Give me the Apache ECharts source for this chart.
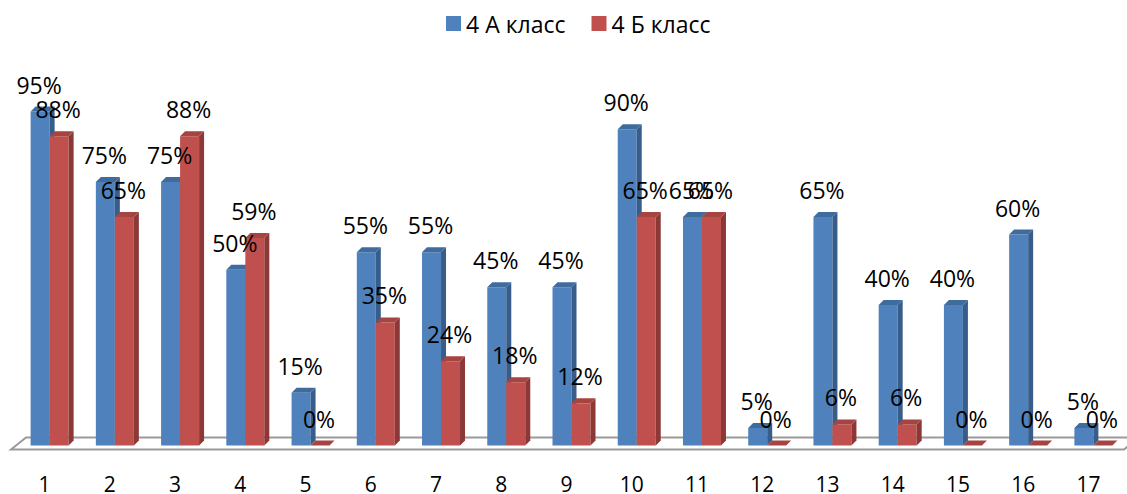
<!DOCTYPE html>
<html>
<head>
<meta charset="utf-8">
<script src="https://cdn.jsdelivr.net/npm/echarts@6/dist/echarts.min.js"></script>
<style>
html,body{margin:0;padding:0;background:#fff;}
#chart{width:1127px;height:494px;}
</style>
</head>
<body>
<div id="chart"></div>
<script>
const categories = ['1','2','3','4','5','6','7','8','9','10','11','12','13','14','15','16','17'];
const seriesNames = ['4 А класс', '4 Б класс'];
const classA = [95, 75, 75, 50, 15, 55, 55, 45, 45, 90, 65, 5, 65, 40, 40, 60, 5];
const classB = [88, 65, 88, 59, 0, 35, 24, 18, 12, 65, 65, 0, 6, 6, 0, 0, 0];

const FONT = '"Open Sans", sans-serif';
const BAR_W = 19, DX = 5, DY = -5;
const palettes = [
  {front: '#4F81BD', side: '#385D8A', top: '#3F6C9F'},
  {front: '#C0504D', side: '#8C3836', top: '#A54441'}
];
const offsets = [-14, 5];

function barRenderer(k) {
  return function (params, api) {
    const i = api.value(0), v = api.value(1);
    const base = api.coord([i, 0]);
    const top = api.coord([i, v]);
    const x0 = base[0] + offsets[k];
    const yb = base[1], yt = top[1];
    const c = palettes[k];
    return {
      type: 'group',
      children: [
        {type: 'rect', shape: {x: x0, y: yt, width: BAR_W, height: yb - yt}, style: {fill: c.front}},
        {type: 'polygon', shape: {points: [[x0 + BAR_W, yt], [x0 + BAR_W + DX, yt + DY], [x0 + BAR_W + DX, yb + DY], [x0 + BAR_W, yb]]}, style: {fill: c.side}},
        {type: 'polygon', shape: {points: [[x0, yt], [x0 + DX, yt + DY], [x0 + BAR_W + DX, yt + DY], [x0 + BAR_W, yt]]}, style: {fill: c.top}}
      ]
    };
  };
}

function labelRenderer(k) {
  return function (params, api) {
    const i = api.value(0), v = api.value(1);
    const top = api.coord([i, v]);
    const base = api.coord([i, 0]);
    const x = base[0] + offsets[k] + BAR_W / 2 - 1;
    return {
      type: 'text',
      style: {
        text: v + '%', x: x, y: top[1] - 27,
        align: 'center', verticalAlign: 'middle',
        font: '23px ' + FONT, fill: '#000'
      }
    };
  };
}

function floorRenderer(params, api) {
  const cs = params.coordSys;
  const yb = cs.y + cs.height;
  const fy = yb + 4, by = yb - 8;
  const lx = cs.x - 1, rx = cs.x + cs.width + 3;
  return {
    type: 'polygon',
    shape: {points: [[lx, fy], [lx + 15, by], [rx + 15, by], [rx, fy]]},
    style: {fill: '#fff', stroke: '#9A9A9A', lineWidth: 2}
  };
}

const dataA = classA.map((v, i) => [i, v]);
const dataB = classB.map((v, i) => [i, v]);

const chart = echarts.init(document.getElementById('chart'), null, {renderer: 'svg'});
chart.setOption({
  animation: false,
  backgroundColor: '#fff',
  legend: {
    data: seriesNames,
    left: 446, top: 12, padding: 0,
    icon: 'rect', itemWidth: 15, itemHeight: 15, itemGap: 26,
    textStyle: {fontFamily: FONT, fontSize: 23, color: '#000'}
  },
  grid: {left: 12, right: 6, top: 94, bottom: 48},
  xAxis: {
    type: 'category', data: categories,
    axisLine: {show: false}, axisTick: {show: false},
    axisLabel: {fontFamily: FONT, fontSize: 21, lineHeight: 18, color: '#000', margin: 29}
  },
  yAxis: {type: 'value', min: 0, max: 100, show: false, splitLine: {show: false}},
  series: [
    {type: 'custom', name: 'floor', renderItem: floorRenderer, data: [[0, 0]], z: 1, silent: true},
    {type: 'custom', name: seriesNames[0], renderItem: barRenderer(0), data: dataA, z: 2, itemStyle: {color: palettes[0].front}},
    {type: 'custom', name: seriesNames[1], renderItem: barRenderer(1), data: dataB, z: 2, itemStyle: {color: palettes[1].front}},
    {type: 'custom', name: 'labelsA', renderItem: labelRenderer(0), data: dataA, z: 5, silent: true},
    {type: 'custom', name: 'labelsB', renderItem: labelRenderer(1), data: dataB, z: 5, silent: true}
  ]
});
</script>
</body>
</html>
